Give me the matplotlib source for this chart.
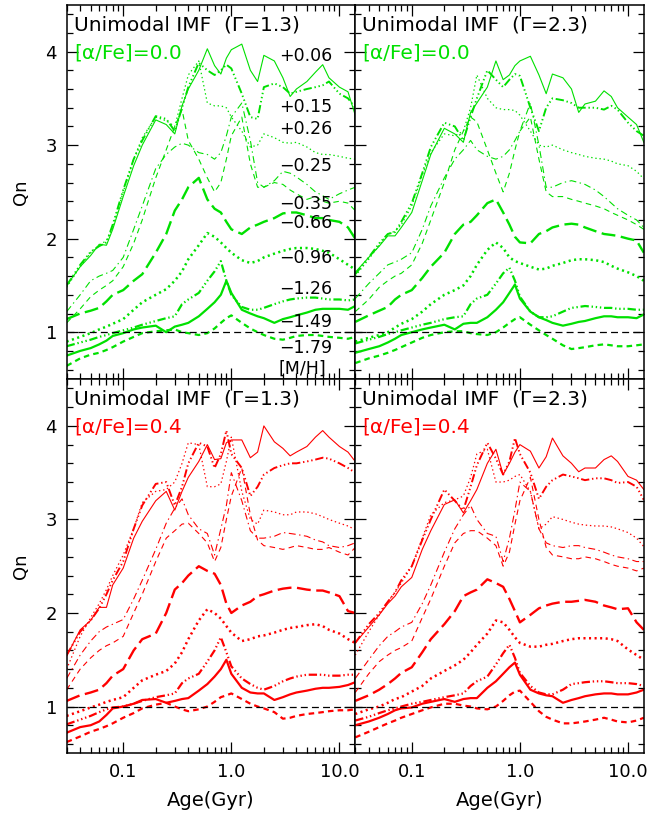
import matplotlib
matplotlib.use('Agg')
import matplotlib.pyplot as plt
from matplotlib.ticker import FixedLocator, FixedFormatter, MultipleLocator, NullFormatter

plt.rcParams['lines.scale_dashes'] = False
plt.rcParams['font.family'] = ['DejaVu Sans']

# ages of the SSP grid (Gyr)
AGE = [0.03, 0.04, 0.05, 0.06, 0.07, 0.08, 0.1, 0.125, 0.15, 0.2,
       0.25, 0.3, 0.35, 0.4, 0.5, 0.6, 0.7, 0.8, 0.9, 1.0,
       1.25, 1.5, 1.75, 2.0, 2.5, 3.0, 3.5, 4.0, 5.0, 6.0,
       7.0, 8.0, 10.0, 12.0, 14.0]

MH_LABELS = ['+0.06', '+0.15', '+0.26', '\u22120.25', '\u22120.35',
             '\u22120.66', '\u22120.96', '\u22121.26', '\u22121.49', '\u22121.79']

# Gamma = 1.3, [a/Fe] = 0.0
g13_a00_p06 = [1.50, 1.70, 1.82, 1.94, 1.93, 2.10, 2.45, 2.78, 3.00, 3.27,
               3.22, 3.12, 3.42, 3.60, 3.80, 4.03, 3.85, 3.76, 3.93, 4.02,
               4.08, 3.80, 3.68, 3.96, 3.90, 3.72, 3.52, 3.60, 3.68, 3.78,
               3.86, 3.72, 3.62, 3.57, 3.32]
g13_a00_p15 = [1.50, 1.72, 1.86, 1.92, 1.96, 2.15, 2.52, 2.85, 3.05, 3.31,
               3.28, 3.15, 3.40, 3.62, 3.88, 3.80, 3.75, 3.80, 3.86, 3.82,
               3.55, 3.30, 3.28, 3.62, 3.66, 3.62, 3.55, 3.57, 3.60, 3.62,
               3.64, 3.68, 3.55, 3.50, 3.40]
g13_a00_p26 = [1.48, 1.70, 1.85, 1.93, 1.98, 2.12, 2.50, 2.85, 3.08, 3.30,
               3.26, 3.20, 3.50, 3.75, 3.90, 3.45, 3.42, 3.42, 3.40, 3.30,
               3.15, 2.98, 3.00, 3.12, 3.08, 3.03, 3.02, 3.03, 2.98, 2.92,
               2.90, 2.90, 2.88, 2.86, 2.85]
g13_a00_m25 = [1.22, 1.40, 1.55, 1.60, 1.63, 1.66, 1.80, 2.10, 2.35, 2.75,
               2.90, 2.98, 3.02, 3.00, 2.92, 2.90, 2.85, 2.92, 3.10, 3.30,
               3.45, 3.05, 2.60, 2.55, 2.62, 2.72, 2.70, 2.66, 2.58, 2.50,
               2.46, 2.42, 2.48, 2.52, 2.55]
g13_a00_m35 = [1.10, 1.25, 1.38, 1.45, 1.50, 1.55, 1.70, 1.95, 2.20, 2.65,
               2.95, 3.20, 3.38, 3.05, 2.85, 2.65, 2.50, 2.60, 2.85, 3.10,
               3.30, 2.80, 2.55, 2.55, 2.60, 2.58, 2.52, 2.48, 2.42, 2.45,
               2.40, 2.38, 2.40, 2.38, 2.30]
g13_a00_m66 = [1.14, 1.20, 1.23, 1.26, 1.33, 1.40, 1.45, 1.55, 1.62, 1.85,
               2.05, 2.30, 2.42, 2.55, 2.65, 2.42, 2.32, 2.28, 2.18, 2.10,
               2.05, 2.12, 2.15, 2.18, 2.22, 2.27, 2.28, 2.28, 2.25, 2.22,
               2.22, 2.20, 2.18, 2.12, 2.00]
g13_a00_m96 = [0.90, 0.95, 0.99, 1.03, 1.06, 1.09, 1.14, 1.24, 1.32, 1.40,
               1.46, 1.55, 1.65, 1.78, 1.93, 2.06, 2.02, 1.96, 1.90, 1.85,
               1.77, 1.74, 1.76, 1.80, 1.84, 1.87, 1.89, 1.90, 1.90, 1.89,
               1.87, 1.85, 1.78, 1.72, 1.67]
g13_a00_m126 = [0.85, 0.89, 0.92, 0.95, 0.97, 0.99, 1.02, 1.05, 1.08, 1.12,
                1.15, 1.17, 1.30, 1.35, 1.42, 1.55, 1.65, 1.76, 1.55, 1.40,
                1.27, 1.24, 1.24, 1.26, 1.30, 1.33, 1.35, 1.36, 1.37, 1.37,
                1.36, 1.35, 1.35, 1.34, 1.35]
g13_a00_m149 = [0.75, 0.80, 0.83, 0.87, 0.91, 0.96, 0.99, 1.03, 1.05, 1.07,
                1.00, 1.06, 1.08, 1.10, 1.17, 1.25, 1.32, 1.40, 1.55, 1.42,
                1.24, 1.20, 1.17, 1.15, 1.10, 1.14, 1.16, 1.18, 1.21, 1.24,
                1.25, 1.25, 1.25, 1.24, 1.28]
g13_a00_m179 = [0.64, 0.72, 0.76, 0.78, 0.81, 0.84, 0.90, 0.95, 0.99, 1.01,
                1.02, 1.03, 1.00, 0.99, 0.97, 0.99, 1.04, 1.10, 1.15, 1.18,
                1.10, 1.04, 1.00, 0.97, 0.93, 0.92, 0.94, 0.96, 0.97, 0.97,
                0.96, 0.95, 0.94, 0.93, 0.95]

# Gamma = 2.3, [a/Fe] = 0.0
g23_a00_p06 = [1.64, 1.80, 1.92, 2.03, 2.03, 2.12, 2.28, 2.62, 2.90, 3.18,
               3.12, 3.03, 3.35, 3.45, 3.62, 3.90, 3.70, 3.75, 3.85, 3.90,
               3.95, 3.75, 3.55, 3.76, 3.72, 3.60, 3.35, 3.44, 3.47, 3.58,
               3.52, 3.40, 3.30, 3.22, 3.03]
g23_a00_p15 = [1.62, 1.80, 1.95, 2.05, 2.07, 2.18, 2.38, 2.70, 2.98, 3.24,
               3.20, 3.05, 3.30, 3.50, 3.80, 3.70, 3.62, 3.70, 3.76, 3.74,
               3.40, 3.15, 3.40, 3.50, 3.48, 3.45, 3.40, 3.40, 3.40, 3.38,
               3.42, 3.38, 3.24, 3.15, 3.10]
g23_a00_p26 = [1.60, 1.78, 1.93, 2.05, 2.08, 2.15, 2.35, 2.68, 2.92, 3.12,
               3.10, 3.15, 3.40, 3.75, 3.50, 3.40, 3.38, 3.38, 3.37, 3.32,
               3.15, 3.00, 2.98, 3.00, 2.95, 2.92, 2.90, 2.88, 2.86, 2.85,
               2.83, 2.80, 2.78, 2.72, 2.64]
g23_a00_m25 = [1.36, 1.52, 1.63, 1.72, 1.75, 1.78, 1.85, 2.10, 2.35, 2.65,
               2.85, 2.95, 3.05, 2.95, 2.88, 2.85, 2.88, 2.95, 3.05, 3.15,
               3.45, 3.00, 2.55, 2.55, 2.60, 2.62, 2.60, 2.58, 2.52, 2.45,
               2.38, 2.32, 2.25, 2.20, 2.12]
g23_a00_m35 = [1.22, 1.35, 1.48, 1.55, 1.60, 1.63, 1.72, 1.95, 2.20, 2.60,
               2.95, 3.15, 3.30, 3.25, 2.95, 2.70, 2.50, 2.70, 2.95, 3.15,
               3.30, 2.85, 2.50, 2.45, 2.45, 2.42, 2.40, 2.38, 2.35, 2.32,
               2.28, 2.25, 2.20, 2.15, 2.10]
g23_a00_m66 = [1.11, 1.18, 1.23, 1.27, 1.35, 1.40, 1.45, 1.58, 1.70, 1.85,
               2.05, 2.15, 2.18, 2.25, 2.38, 2.42, 2.28, 2.15, 2.02, 1.96,
               1.95, 2.05, 2.08, 2.12, 2.15, 2.16, 2.15, 2.12, 2.08, 2.05,
               2.04, 2.03, 2.00, 1.98, 1.85]
g23_a00_m96 = [0.90, 0.94, 0.97, 1.00, 1.05, 1.09, 1.14, 1.22, 1.30, 1.40,
               1.45, 1.50, 1.60, 1.72, 1.88, 1.96, 1.90, 1.80, 1.76, 1.74,
               1.70, 1.67, 1.68, 1.71, 1.74, 1.77, 1.78, 1.78, 1.77, 1.75,
               1.71, 1.68, 1.64, 1.60, 1.55]
g23_a00_m126 = [0.88, 0.92, 0.95, 0.98, 1.00, 1.02, 1.05, 1.08, 1.10, 1.14,
                1.16, 1.17, 1.30, 1.36, 1.40, 1.52, 1.63, 1.69, 1.55, 1.38,
                1.22, 1.16, 1.16, 1.17, 1.22, 1.26, 1.27, 1.28, 1.27, 1.26,
                1.26, 1.25, 1.25, 1.24, 1.24]
g23_a00_m149 = [0.78, 0.82, 0.85, 0.89, 0.93, 0.97, 1.00, 1.03, 1.05, 1.08,
                1.03, 1.09, 1.10, 1.10, 1.16, 1.24, 1.32, 1.42, 1.51, 1.36,
                1.22, 1.16, 1.13, 1.10, 1.07, 1.09, 1.11, 1.12, 1.15, 1.17,
                1.17, 1.16, 1.16, 1.15, 1.19]
g23_a00_m179 = [0.67, 0.72, 0.75, 0.78, 0.81, 0.84, 0.89, 0.94, 0.97, 1.00,
                1.01, 1.01, 0.99, 0.98, 0.97, 1.00, 1.05, 1.10, 1.14, 1.16,
                1.08, 1.02, 0.97, 0.93, 0.86, 0.82, 0.83, 0.84, 0.86, 0.87,
                0.86, 0.85, 0.85, 0.86, 0.87]

# Gamma = 1.3, [a/Fe] = 0.4
g13_a04_p06 = [1.54, 1.82, 1.92, 2.06, 2.06, 2.30, 2.48, 2.80, 2.98, 3.20,
               3.30, 3.10, 3.30, 3.45, 3.62, 3.80, 3.64, 3.65, 3.82, 3.85,
               3.85, 3.66, 3.72, 4.00, 3.83, 3.76, 3.68, 3.72, 3.78, 3.88,
               3.95, 3.88, 3.78, 3.72, 3.62]
g13_a04_p15 = [1.55, 1.80, 1.92, 2.05, 2.20, 2.35, 2.55, 2.90, 3.15, 3.38,
               3.40, 3.15, 3.35, 3.60, 3.82, 3.78, 3.55, 3.70, 3.95, 3.70,
               3.55, 3.25, 3.35, 3.48, 3.55, 3.58, 3.60, 3.60, 3.62, 3.64,
               3.66, 3.65, 3.60, 3.55, 3.50]
g13_a04_p26 = [1.40, 1.75, 1.95, 2.10, 2.25, 2.40, 2.62, 2.90, 3.18, 3.30,
               3.32, 3.40, 3.60, 3.82, 3.80, 3.35, 3.35, 3.38, 3.62, 3.88,
               3.30, 3.00, 2.95, 3.10, 3.08, 3.05, 3.05, 3.08, 3.08, 3.06,
               3.03, 3.00, 2.96, 2.93, 2.89]
g13_a04_m25 = [1.30, 1.55, 1.70, 1.80, 1.85, 1.88, 1.93, 2.15, 2.35, 2.68,
               2.96, 3.12, 3.22, 3.05, 2.90, 2.85, 2.62, 2.90, 3.15, 3.50,
               3.20, 2.88, 2.80, 2.80, 2.82, 2.86, 2.85, 2.84, 2.82, 2.78,
               2.76, 2.72, 2.70, 2.72, 2.75]
g13_a04_m35 = [1.18, 1.40, 1.52, 1.60, 1.65, 1.68, 1.75, 2.00, 2.20, 2.55,
               2.80, 2.88, 2.95, 2.96, 2.85, 2.75, 2.55, 2.70, 3.00, 3.25,
               3.55, 3.05, 2.78, 2.72, 2.70, 2.68, 2.70, 2.72, 2.70, 2.68,
               2.68, 2.70, 2.65, 2.62, 2.70]
g13_a04_m66 = [1.06, 1.12, 1.15, 1.18, 1.25, 1.33, 1.40, 1.60, 1.72, 1.78,
               2.00, 2.25, 2.32, 2.40, 2.50, 2.45, 2.42, 2.30, 2.10, 2.00,
               2.08, 2.12, 2.18, 2.20, 2.24, 2.26, 2.27, 2.27, 2.25, 2.24,
               2.24, 2.22, 2.18, 2.02, 2.00]
g13_a04_m96 = [0.90, 0.95, 0.99, 1.02, 1.05, 1.07, 1.10, 1.20, 1.28, 1.34,
               1.38, 1.46, 1.58, 1.72, 1.92, 2.04, 2.00, 1.94, 1.86, 1.79,
               1.70, 1.72, 1.75, 1.76, 1.79, 1.82, 1.84, 1.85, 1.87, 1.88,
               1.86, 1.82, 1.78, 1.72, 1.68]
g13_a04_m126 = [0.81, 0.86, 0.90, 0.94, 0.97, 0.99, 1.00, 1.03, 1.06, 1.10,
                1.12, 1.14, 1.25, 1.30, 1.35, 1.48, 1.60, 1.74, 1.58, 1.43,
                1.30, 1.24, 1.20, 1.18, 1.22, 1.27, 1.30, 1.32, 1.34, 1.34,
                1.34, 1.33, 1.33, 1.34, 1.34]
g13_a04_m149 = [0.72, 0.78, 0.80, 0.84, 0.91, 0.98, 1.00, 1.03, 1.07, 1.08,
                1.04, 1.06, 1.08, 1.09, 1.17, 1.24, 1.32, 1.40, 1.50, 1.35,
                1.20, 1.15, 1.14, 1.14, 1.07, 1.10, 1.13, 1.15, 1.17, 1.19,
                1.20, 1.20, 1.21, 1.23, 1.26]
g13_a04_m179 = [0.62, 0.68, 0.73, 0.76, 0.79, 0.82, 0.88, 0.93, 0.98, 1.02,
                1.04, 1.00, 0.97, 0.95, 0.97, 1.00, 1.05, 1.10, 1.12, 1.14,
                1.08, 1.03, 1.00, 0.98, 0.94, 0.87, 0.88, 0.90, 0.92, 0.93,
                0.94, 0.95, 0.96, 0.96, 0.97]

# Gamma = 2.3, [a/Fe] = 0.4
g23_a04_p06 = [1.68, 1.85, 1.98, 2.10, 2.18, 2.28, 2.38, 2.68, 2.88, 3.16,
               3.21, 3.07, 3.20, 3.32, 3.60, 3.75, 3.48, 3.60, 3.72, 3.80,
               3.73, 3.55, 3.67, 3.87, 3.68, 3.60, 3.51, 3.55, 3.55, 3.64,
               3.68, 3.62, 3.46, 3.42, 3.32]
g23_a04_p15 = [1.68, 1.88, 2.00, 2.12, 2.22, 2.35, 2.50, 2.78, 3.00, 3.32,
               3.20, 3.10, 3.35, 3.58, 3.82, 3.65, 3.48, 3.62, 3.87, 3.70,
               3.50, 3.22, 3.35, 3.42, 3.48, 3.46, 3.44, 3.42, 3.44, 3.44,
               3.42, 3.39, 3.40, 3.35, 3.21]
g23_a04_p26 = [1.55, 1.80, 1.98, 2.12, 2.22, 2.32, 2.50, 2.80, 3.05, 3.18,
               3.21, 3.25, 3.45, 3.70, 3.75, 3.40, 3.40, 3.42, 3.46, 3.48,
               3.30, 2.90, 2.95, 3.03, 3.00, 2.97, 2.95, 2.94, 2.93, 2.93,
               2.92, 2.90, 2.86, 2.80, 2.71]
g23_a04_m25 = [1.30, 1.50, 1.65, 1.75, 1.80, 1.85, 1.90, 2.10, 2.30, 2.65,
               2.90, 3.05, 3.15, 3.00, 2.85, 2.82, 2.55, 2.80, 3.10, 3.40,
               3.30, 2.90, 2.75, 2.72, 2.70, 2.72, 2.72, 2.70, 2.68, 2.65,
               2.62, 2.60, 2.58, 2.55, 2.55]
g23_a04_m35 = [1.15, 1.35, 1.48, 1.55, 1.60, 1.63, 1.70, 1.95, 2.15, 2.50,
               2.75, 2.85, 2.88, 2.88, 2.80, 2.72, 2.50, 2.65, 2.95, 3.20,
               3.45, 3.00, 2.70, 2.62, 2.60, 2.58, 2.58, 2.60, 2.58, 2.55,
               2.52, 2.50, 2.48, 2.45, 2.48]
g23_a04_m66 = [1.06, 1.12, 1.18, 1.24, 1.30, 1.36, 1.42, 1.58, 1.72, 1.88,
               2.02, 2.18, 2.22, 2.25, 2.36, 2.32, 2.28, 2.15, 2.02, 1.90,
               1.98, 2.05, 2.08, 2.10, 2.12, 2.12, 2.13, 2.14, 2.12, 2.08,
               2.06, 2.04, 2.05, 1.90, 1.82]
g23_a04_m96 = [0.92, 0.97, 1.00, 1.04, 1.08, 1.10, 1.16, 1.22, 1.30, 1.38,
               1.44, 1.50, 1.58, 1.66, 1.78, 1.92, 1.90, 1.82, 1.74, 1.68,
               1.64, 1.64, 1.66, 1.67, 1.70, 1.72, 1.73, 1.73, 1.73, 1.73,
               1.72, 1.70, 1.61, 1.55, 1.50]
g23_a04_m126 = [0.85, 0.89, 0.93, 0.96, 0.98, 1.00, 1.03, 1.05, 1.07, 1.10,
                1.12, 1.14, 1.22, 1.27, 1.32, 1.45, 1.57, 1.66, 1.52, 1.36,
                1.22, 1.15, 1.13, 1.13, 1.18, 1.24, 1.25, 1.26, 1.27, 1.27,
                1.26, 1.25, 1.25, 1.24, 1.22]
g23_a04_m149 = [0.80, 0.84, 0.88, 0.92, 0.96, 0.98, 0.99, 1.03, 1.05, 1.08,
                1.05, 1.08, 1.09, 1.09, 1.20, 1.27, 1.35, 1.42, 1.47, 1.34,
                1.18, 1.14, 1.12, 1.11, 1.04, 1.07, 1.09, 1.11, 1.13, 1.14,
                1.14, 1.13, 1.13, 1.15, 1.18]
g23_a04_m179 = [0.67, 0.73, 0.78, 0.82, 0.85, 0.88, 0.92, 0.96, 0.99, 1.03,
                1.03, 1.01, 1.00, 0.98, 0.97, 1.00, 1.06, 1.12, 1.16, 1.17,
                1.05, 0.95, 0.89, 0.86, 0.82, 0.82, 0.83, 0.84, 0.86, 0.88,
                0.86, 0.84, 0.83, 0.85, 0.88]

# line style and width for each [M/H], same order as MH_LABELS
DOTS = (0, (1, 2))
DASH = (0, (4, 3))
DASHDOT = (0, (5, 2.5, 1, 2.5))
DASH3DOT = (0, (6, 2, 1, 2, 1, 2, 1, 2))
LONGDASH = (0, (10, 4))
STYLES = [('-', 0.8), (DASH3DOT, 1.4), (DOTS, 0.9), (DASHDOT, 0.8), (DASH, 0.8),
          (LONGDASH, 1.7), ((0, (1.5, 2.5)), 1.8), (DASH3DOT, 1.6), ('-', 1.6), (DASH, 1.6)]

GREEN = '#00e000'
RED = '#ff0000'


def setup_axes(ax, show_x, show_y):
    ax.set_xscale('log')
    ax.set_xlim(0.03, 14.0)
    ax.set_ylim(0.5, 4.5)
    ax.xaxis.set_major_locator(FixedLocator([0.1, 1.0, 10.0]))
    ax.xaxis.set_major_formatter(FixedFormatter(['0.1', '1.0', '10.0']))
    minors = [m * d for d in (0.01, 0.1, 1.0) for m in range(2, 10)] + [20.0]
    ax.xaxis.set_minor_locator(FixedLocator(minors))
    ax.xaxis.set_minor_formatter(NullFormatter())
    ax.yaxis.set_major_locator(FixedLocator([1, 2, 3, 4]))
    ax.yaxis.set_minor_locator(MultipleLocator(0.2))
    ax.tick_params(which='both', direction='in', top=True, right=True, width=0.9)
    ax.tick_params(which='major', length=8, labelsize=13, pad=7)
    ax.tick_params(which='minor', length=4)
    for sp in ax.spines.values():
        sp.set_linewidth(1.1)
    if not show_x:
        ax.tick_params(labelbottom=False)
    else:
        ax.set_xlabel('Age(Gyr)', fontsize=14, labelpad=7)
    if not show_y:
        ax.tick_params(labelleft=False)
    else:
        ax.set_ylabel('Qn', fontsize=13, labelpad=11)


def draw_panel(ax, series, color, gamma, alpha_fe):
    for q, (ls, lw) in zip(series, STYLES):
        ax.plot(AGE, q, color=color, linestyle=ls, linewidth=lw)
    ax.axhline(1.0, color='black', linestyle=(0, (5, 3)), linewidth=0.9)
    ax.text(0.025, 0.947, 'Unimodal IMF  (\u0393=%s)' % gamma, transform=ax.transAxes,
            fontsize=14.5, va='center', ha='left', color='black')
    ax.text(0.025, 0.872, '[\u03b1/Fe]=%s' % alpha_fe, transform=ax.transAxes,
            fontsize=14.5, va='center', ha='left', color=color)


def label_metallicities(ax):
    ypos = [0.862, 0.726, 0.667, 0.570, 0.467, 0.416, 0.323, 0.240, 0.152, 0.082]
    for lab, y in zip(MH_LABELS, ypos):
        ax.text(0.735, y, lab, transform=ax.transAxes, fontsize=12.5,
                va='center', ha='left')
    ax.text(0.735, 0.028, '[M/H]', transform=ax.transAxes, fontsize=12.5,
            va='center', ha='left')


fig = plt.figure(figsize=(6.68, 8.18), dpi=100)
left, width = 0.0998, 0.4320
top_b, bot_b, height = 0.5367, 0.0791, 0.4574

ax_tl = fig.add_axes([left, top_b, width, height])
ax_tr = fig.add_axes([left + width, top_b, width, height])
ax_bl = fig.add_axes([left, bot_b, width, height])
ax_br = fig.add_axes([left + width, bot_b, width, height])

panel_tl = [g13_a00_p06, g13_a00_p15, g13_a00_p26, g13_a00_m25, g13_a00_m35,
            g13_a00_m66, g13_a00_m96, g13_a00_m126, g13_a00_m149, g13_a00_m179]
panel_tr = [g23_a00_p06, g23_a00_p15, g23_a00_p26, g23_a00_m25, g23_a00_m35,
            g23_a00_m66, g23_a00_m96, g23_a00_m126, g23_a00_m149, g23_a00_m179]
panel_bl = [g13_a04_p06, g13_a04_p15, g13_a04_p26, g13_a04_m25, g13_a04_m35,
            g13_a04_m66, g13_a04_m96, g13_a04_m126, g13_a04_m149, g13_a04_m179]
panel_br = [g23_a04_p06, g23_a04_p15, g23_a04_p26, g23_a04_m25, g23_a04_m35,
            g23_a04_m66, g23_a04_m96, g23_a04_m126, g23_a04_m149, g23_a04_m179]

draw_panel(ax_tl, panel_tl, GREEN, '1.3', '0.0')
draw_panel(ax_tr, panel_tr, GREEN, '2.3', '0.0')
draw_panel(ax_bl, panel_bl, RED, '1.3', '0.4')
draw_panel(ax_br, panel_br, RED, '2.3', '0.4')
label_metallicities(ax_tl)

setup_axes(ax_tl, False, True)
setup_axes(ax_tr, False, False)
setup_axes(ax_bl, True, True)
setup_axes(ax_br, True, False)

fig.savefig('out.png', dpi=100)
plt.close(fig)
